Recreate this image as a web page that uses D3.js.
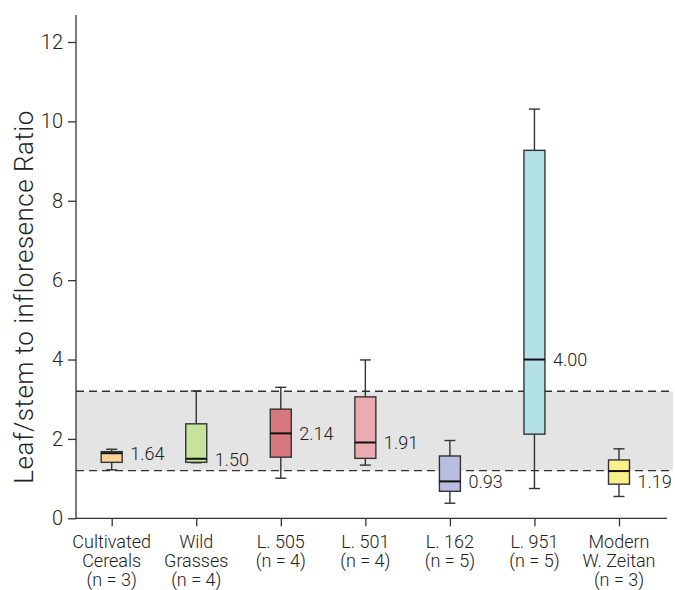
<!DOCTYPE html>
<html>
<head>
<meta charset="utf-8">
<script src="https://cdn.jsdelivr.net/npm/d3@7"></script>
<style>
  html, body { margin: 0; padding: 0; background: #fff; }
  svg { display: block; font-family: "Roboto", "Liberation Sans", sans-serif; font-weight: 300; }
</style>
</head>
<body>
<svg id="chart" width="675" height="590"></svg>
<script>
// Groups and their sample sizes
const groups = ["Cultivated Cereals", "Wild Grasses", "L. 505", "L. 501", "L. 162", "L. 951", "Modern W. Zeitan"];
const groupLines = [
  ["Cultivated", "Cereals", "(n = 3)"],
  ["Wild", "Grasses", "(n = 4)"],
  ["L. 505", "(n = 4)"],
  ["L. 501", "(n = 4)"],
  ["L. 162", "(n = 5)"],
  ["L. 951", "(n = 5)"],
  ["Modern", "W. Zeitan", "(n = 3)"]
];

// Five-number summaries of the leaf/stem to inflorescence ratio
const whiskerLow  = [1.22, 1.40, 1.01, 1.34, 0.38, 0.75, 0.55];
const quartile1   = [1.41, 1.41, 1.54, 1.51, 0.68, 2.12, 0.86];
const medians     = [1.64, 1.50, 2.14, 1.91, 0.93, 4.00, 1.19];
const quartile3   = [1.68, 2.38, 2.75, 3.06, 1.57, 9.27, 1.47];
const whiskerHigh = [1.74, 3.21, 3.30, 3.99, 1.96, 10.31, 1.75];

// Reference range of modern cereals (shaded band)
const bandRange = [1.2, 3.2];

const yTicks = [0, 2, 4, 6, 8, 10, 12];
const fills = ["#fcd395", "#c6e39c", "#d9777e", "#eaabb1", "#b9bde1", "#b2e2e6", "#f8f08b"];

const svg = d3.select("#chart");
const axisLeftX = 76, axisRightX = 667;

const y = d3.scaleLinear().domain([0, 12.68]).range([518.3, 15]);
const x = d3.scalePoint().domain(groups).range([111.7, 619]);

const ink = "#333";

// Shaded band with dashed edges
svg.append("rect")
  .attr("x", axisLeftX)
  .attr("y", y(bandRange[1]))
  .attr("width", 673 - axisLeftX)
  .attr("height", y(bandRange[0]) - y(bandRange[1]))
  .attr("fill", "#e4e4e4");

svg.selectAll("line.band")
  .data(bandRange)
  .join("line")
  .attr("class", "band")
  .attr("x1", axisLeftX).attr("x2", 673)
  .attr("y1", d => y(d)).attr("y2", d => y(d))
  .attr("stroke", ink)
  .attr("stroke-width", 1.4)
  .attr("stroke-dasharray", "8,5");

// Y axis
const yAxis = svg.append("g")
  .attr("transform", `translate(${axisLeftX},0)`)
  .call(d3.axisLeft(y).tickValues(yTicks).tickSize(8).tickPadding(5).tickFormat(d3.format("d")));
yAxis.select(".domain").attr("stroke", ink).attr("stroke-width", 1.3)
  .attr("d", `M0,${y.range()[1]}V${y(0)}`);
yAxis.selectAll(".tick line").attr("stroke", ink).attr("stroke-width", 1.3);
yAxis.selectAll(".tick text")
  .attr("fill", "#222")
  .style("font-size", "20px")
  .style("font-family", "Roboto, 'Liberation Sans', sans-serif")
  .style("font-weight", 300);

// X axis
svg.append("line")
  .attr("x1", axisLeftX).attr("x2", axisRightX)
  .attr("y1", y(0)).attr("y2", y(0))
  .attr("stroke", ink).attr("stroke-width", 1.3);

const xAxis = svg.append("g")
  .attr("transform", `translate(0,${y(0)})`)
  .call(d3.axisBottom(x).tickSize(8).tickFormat(""));
xAxis.select(".domain").remove();
xAxis.selectAll(".tick line").attr("stroke", ink).attr("stroke-width", 1.3);

// Multi-line category labels
const catLabels = svg.append("g");
groups.forEach((g, i) => {
  const t = catLabels.append("text")
    .attr("x", x(g))
    .attr("y", 547.5)
    .attr("text-anchor", "middle")
    .attr("fill", "#222")
    .style("font-size", "18px");
  groupLines[i].forEach((ln, j) => {
    t.append("tspan").attr("x", x(g)).attr("dy", j === 0 ? 0 : 19.2).text(ln);
  });
});

// Y axis title
svg.append("text")
  .attr("transform", `translate(33,297) rotate(-90)`)
  .attr("text-anchor", "middle")
  .attr("fill", "#222")
  .style("font-size", "26px")
  .style("letter-spacing", "0.5px")
  .text("Leaf/stem to infloresence Ratio");

// Box plots
const boxW = 21, capW = 11;
const boxes = svg.append("g").selectAll("g.box")
  .data(groups.map((g, i) => ({
    g, i,
    lo: whiskerLow[i], q1: quartile1[i], med: medians[i], q3: quartile3[i], hi: whiskerHigh[i]
  })))
  .join("g")
  .attr("class", "box")
  .attr("transform", d => `translate(${x(d.g)},0)`);

boxes.append("line")
  .attr("x1", 0).attr("x2", 0)
  .attr("y1", d => y(d.hi)).attr("y2", d => y(d.lo))
  .attr("stroke", ink).attr("stroke-width", 1.4);

boxes.selectAll("line.cap")
  .data(d => [d.lo, d.hi])
  .join("line")
  .attr("class", "cap")
  .attr("x1", -capW / 2).attr("x2", capW / 2)
  .attr("y1", v => y(v)).attr("y2", v => y(v))
  .attr("stroke", ink).attr("stroke-width", 1.4);

boxes.append("rect")
  .attr("x", -boxW / 2)
  .attr("width", boxW)
  .attr("y", d => y(d.q3))
  .attr("height", d => y(d.q1) - y(d.q3))
  .attr("fill", d => fills[d.i])
  .attr("stroke", ink)
  .attr("stroke-width", 1.4);

boxes.append("line")
  .attr("x1", -boxW / 2).attr("x2", boxW / 2)
  .attr("y1", d => y(d.med)).attr("y2", d => y(d.med))
  .attr("stroke", "#111").attr("stroke-width", 2);

// Median value labels (a few nudged down clear of the dashed line)
const labelNudge = [0, 1, 0, 0, 0, 0, 10];
boxes.append("text")
  .attr("x", boxW / 2 + 8)
  .attr("y", d => y(d.med) + labelNudge[d.i])
  .attr("dy", "0.36em")
  .attr("fill", "#222")
  .style("font-size", "18px")
  .text(d => d3.format(".2f")(d.med));
</script>
</body>
</html>
